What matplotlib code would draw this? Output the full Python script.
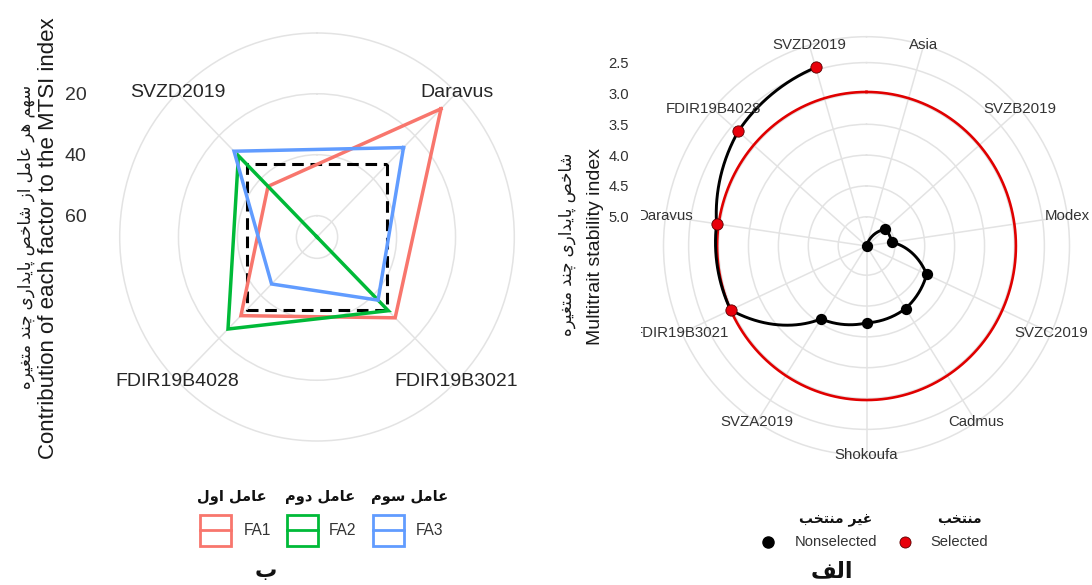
import numpy as np
import matplotlib
matplotlib.use('Agg')
import matplotlib.pyplot as plt
from matplotlib.path import Path
from matplotlib.patches import PathPatch, Rectangle
from matplotlib.transforms import Bbox, TransformedBbox

plt.rcParams['font.family'] = ['Liberation Sans', 'DejaVu Sans']

# ---------------- data: contribution of each factor (%) ----------------
contrib_genotypes = ['Daravus', 'FDIR19B3021', 'FDIR19B4028', 'SVZD2019']
fa1 = [7.5, 29.5, 30.5, 43.5]
fa2 = [67.0, 32.8, 24.3, 29.3]
fa3 = [25.5, 37.7, 45.2, 27.2]
factor_names = ['FA1', 'FA2', 'FA3']
factor_titles = ['عامل اول', 'عامل دوم', 'عامل سوم']
factor_colors = ['#F8766D', '#00BA38', '#619CFF']
contrib_ticks = [20, 40, 60]
equal_share = 100 / 3

# ---------------- data: multitrait stability index ----------------
mtsi_genotypes = ['Asia', 'SVZB2019', 'Modex', 'SVZC2019', 'Cadmus', 'Shokoufa',
                  'SVZA2019', 'FDIR19B3021', 'Daravus', 'FDIR19B4028', 'SVZD2019']
mtsi_values = [5.473, 5.054, 5.049, 4.368, 4.267, 4.226, 4.067, 2.976, 2.941, 2.636, 2.457]
mtsi_selected = [False, False, False, False, False, False, False, True, True, True, True]
mtsi_ticks = [2.5, 3.0, 3.5, 4.0, 4.5, 5.0]

# texts
ylab_left_fa = 'سهم هر عامل از شاخص پایداری چند متغیره'
ylab_left_en = 'Contribution of each factor to the MTSI index'
ylab_right_fa = 'شاخص پایداری چند متغیره'
ylab_right_en = 'Multitrait stability index'
legend_right_en = ['Nonselected', 'Selected']
legend_right_fa = ['غیر منتخب', 'منتخب']
panel_left = 'ب'
panel_right = 'الف'

# ---------------- minimal Persian shaping (presentation forms) ----------------
_AR = {
    'ا': ('\uFE8D', '\uFE8E', None, None),
    'ب': ('\uFE8F', '\uFE90', '\uFE91', '\uFE92'),
    'پ': ('\uFB56', '\uFB57', '\uFB58', '\uFB59'),
    'ت': ('\uFE95', '\uFE96', '\uFE97', '\uFE98'),
    'چ': ('\uFB7A', '\uFB7B', '\uFB7C', '\uFB7D'),
    'خ': ('\uFEA5', '\uFEA6', '\uFEA7', '\uFEA8'),
    'د': ('\uFEA9', '\uFEAA', None, None),
    'ر': ('\uFEAD', '\uFEAE', None, None),
    'ز': ('\uFEAF', '\uFEB0', None, None),
    'س': ('\uFEB1', '\uFEB2', '\uFEB3', '\uFEB4'),
    'ش': ('\uFEB5', '\uFEB6', '\uFEB7', '\uFEB8'),
    'ص': ('\uFEB9', '\uFEBA', '\uFEBB', '\uFEBC'),
    'ع': ('\uFEC9', '\uFECA', '\uFECB', '\uFECC'),
    'غ': ('\uFECD', '\uFECE', '\uFECF', '\uFED0'),
    'ف': ('\uFED1', '\uFED2', '\uFED3', '\uFED4'),
    'ل': ('\uFEDD', '\uFEDE', '\uFEDF', '\uFEE0'),
    'م': ('\uFEE1', '\uFEE2', '\uFEE3', '\uFEE4'),
    'ن': ('\uFEE5', '\uFEE6', '\uFEE7', '\uFEE8'),
    'ه': ('\uFEE9', '\uFEEA', '\uFEEB', '\uFEEC'),
    'و': ('\uFEED', '\uFEEE', None, None),
    '\u06CC': ('\uFBFC', '\uFBFD', '\uFBFE', '\uFBFF'),
}


def fa(text):
    text = text.replace('\u064A', '\u06CC').replace('\u0649', '\u06CC')
    ch = list(text)
    out = []
    for i, c in enumerate(ch):
        f = _AR.get(c)
        if f is None:
            out.append(c)
            continue
        p = ch[i - 1] if i > 0 else ''
        q = ch[i + 1] if i + 1 < len(ch) else ''
        jp = p in _AR and _AR[p][2] is not None
        jn = q in _AR and f[2] is not None
        if jp and jn:
            g = f[3]
        elif jp:
            g = f[1]
        elif jn:
            g = f[2]
        else:
            g = f[0]
        out.append(g)
    return ''.join(reversed(out))


FA_FONT = ['DejaVu Sans']

W, H = 1092, 585
fig = plt.figure(figsize=(W / 100, H / 100), dpi=100)


def box(x0, y0, x1, y1):
    return [x0 / W, 1 - y1 / H, (x1 - x0) / W, (y1 - y0) / H]


GRID = '#E3E3E3'

# ======================= LEFT: radar of contributions =======================
axL = fig.add_axes(box(119.7, 33, 514.3, 441), projection='polar')
axL.set_aspect('auto')
axL.set_theta_zero_location('N')
axL.set_theta_direction(-1)
n = len(contrib_genotypes)
thL = (np.arange(n) + 0.5) * 2 * np.pi / n
allv = np.concatenate([fa1, fa2, fa3])
vmaxL, vminL = allv.max(), allv.min()
routL = vminL - (vmaxL - vminL) / 8
axL.set_ylim(vmaxL, routL)
axL.set_xticks(thL)
axL.set_xticklabels([])
axL.set_yticks(contrib_ticks)
axL.set_yticklabels([])
axL.tick_params(length=0)
axL.grid(True, color=GRID, lw=1.1)
axL.spines['polar'].set_color(GRID)
axL.spines['polar'].set_linewidth(1.1)

thc = np.append(thL, thL[0])
axL.plot(thc, np.full(len(thc), equal_share), color='black', lw=2.2,
         linestyle=(0, (3.8, 2.2)), zorder=2)
for vals, col in zip([fa1, fa2, fa3], factor_colors):
    axL.plot(thc, np.append(vals, vals[0]), color=col, lw=2.5, zorder=3,
             solid_joinstyle='miter')
for t, g in zip(thL, contrib_genotypes):
    axL.text(t, routL, g, ha='center', va='center', fontsize=14, color='#262626')

posL = axL.get_position()
caxL = fig.add_axes([91 / W, posL.y0 + posL.height / 2, 1e-4, posL.height / 2])
caxL.set_ylim(vmaxL, routL)
caxL.set_yticks(contrib_ticks)
caxL.set_yticklabels([str(v) for v in contrib_ticks])
caxL.tick_params(axis='y', length=0, pad=3, labelsize=14, labelcolor='#303030')
caxL.set_xticks([])
for s in caxL.spines.values():
    s.set_visible(False)
caxL.patch.set_visible(False)

fig.text(49 / W, 1 - 238 / H, ylab_left_en, rotation=90, ha='center', va='center',
         fontsize=16, color='#1a1a1a')
fig.text(26 / W, 1 - 237 / H, fa(ylab_left_fa), rotation=90, ha='center', va='center',
         fontsize=12, color='#1a1a1a', family=FA_FONT)

# ======================= RIGHT: MTSI polar =======================
axR = fig.add_axes(box(663.5, 36.7, 1069.5, 455.3), projection='polar')
axR.set_aspect('auto')
axR.set_theta_zero_location('N')
axR.set_theta_direction(-1)
m = len(mtsi_genotypes)
thR = (np.arange(m) + 0.5) * 2 * np.pi / m
mv = np.array(mtsi_values)
sel = np.array(mtsi_selected)
vmaxR, vminR = mv.max(), mv.min()
routR = vminR - (vmaxR - vminR) / 8
axR.set_ylim(vmaxR, routR)
axR.set_xticks(thR)
axR.set_xticklabels([])
axR.set_yticks(mtsi_ticks)
axR.set_yticklabels([])
axR.tick_params(length=0)
axR.grid(True, color=GRID, lw=1.1)
axR.spines['polar'].set_color(GRID)
axR.spines['polar'].set_linewidth(1.1)

cutoff = mv[sel].max()
circ = np.linspace(0, 2 * np.pi, 361)
axR.plot(circ, np.full(len(circ), cutoff), color='#E00000', lw=1.9, zorder=2)
spiral = Path(np.column_stack([thR, mv]), _interpolation_steps=80)
axR.add_patch(PathPatch(spiral, facecolor='none', edgecolor='black', lw=2.1,
                        joinstyle='round', capstyle='round', zorder=3))
axR.scatter(thR[~sel], mv[~sel], s=66, color='black', zorder=4, linewidths=0)
axR.scatter(thR[sel], mv[sel], s=66, color='#E8000B', edgecolors='#5a0000',
            linewidths=0.6, zorder=4)

clip = TransformedBbox(Bbox([[641 / W, 0], [1, 1]]), fig.transFigure)
for t, g in zip(thR, mtsi_genotypes):
    tx = axR.text(t, routR, g, ha='center', va='center', fontsize=10.8, color='#333333')
    tx.set_clip_box(clip)
    tx.set_clip_on(True)

posR = axR.get_position()
caxR = fig.add_axes([633 / W, posR.y0 + posR.height / 2, 1e-4, posR.height / 2])
caxR.set_ylim(vmaxR, routR)
caxR.set_yticks(mtsi_ticks)
caxR.set_yticklabels([f'{v:.1f}' for v in mtsi_ticks])
caxR.tick_params(axis='y', length=0, pad=3, labelsize=10.6, labelcolor='#303030')
caxR.set_xticks([])
for s in caxR.spines.values():
    s.set_visible(False)
caxR.patch.set_visible(False)

fig.text(595 / W, 1 - 246 / H, ylab_right_en, rotation=90, ha='center', va='center',
         fontsize=14, color='#1a1a1a')
fig.text(567 / W, 1 - 244 / H, fa(ylab_right_fa), rotation=90, ha='center', va='center',
         fontsize=12, color='#1a1a1a', family=FA_FONT)

# ======================= legends and panel labels =======================
lax = fig.add_axes([0, 0, 1, 1])
lax.set_xlim(0, W)
lax.set_ylim(H, 0)
lax.axis('off')

key_x = [198.3, 286.0, 372.0]
text_x = [243.3, 329.0, 416.0]
for kx, tx, col, nm, tt in zip(key_x, text_x, factor_colors, factor_names, factor_titles):
    lax.add_patch(Rectangle((kx + 1.2, 514.5), 31.0, 31.0, facecolor='none',
                            edgecolor=col, lw=2.0))
    lax.plot([kx + 1.2, kx + 32.2], [530, 530], color=col, lw=2.0)
    lax.text(tx, 530.5, nm, ha='left', va='center', fontsize=11.2, color='#333333')
    lax.text(kx - 1, 497, fa(tt), ha='left', va='center', fontsize=10.5,
             fontweight='bold', color='#111111', family=FA_FONT)

lax.plot([768], [542], marker='o', markersize=8, color='black', lw=0)
lax.plot([905], [542], marker='o', markersize=8, color='#E8000B',
         markeredgecolor='#5a0000', markeredgewidth=0.6, lw=0)
lax.text(795, 542.5, legend_right_en[0], ha='left', va='center', fontsize=10.6, color='#333333')
lax.text(930, 542.5, legend_right_en[1], ha='left', va='center', fontsize=10.6, color='#333333')
lax.text(836, 520, fa(legend_right_fa[0]), ha='center', va='center', fontsize=10,
         fontweight='bold', color='#111111', family=FA_FONT)
lax.text(959, 520, fa(legend_right_fa[1]), ha='center', va='center', fontsize=10,
         fontweight='bold', color='#111111', family=FA_FONT)

lax.text(266, 577, fa(panel_left), ha='center', va='baseline', fontsize=16,
         fontweight='bold', color='#111111', family=FA_FONT)
lax.text(832, 577, fa(panel_right), ha='center', va='baseline', fontsize=16,
         fontweight='bold', color='#111111', family=FA_FONT)

fig.savefig('out.png', dpi=100)
